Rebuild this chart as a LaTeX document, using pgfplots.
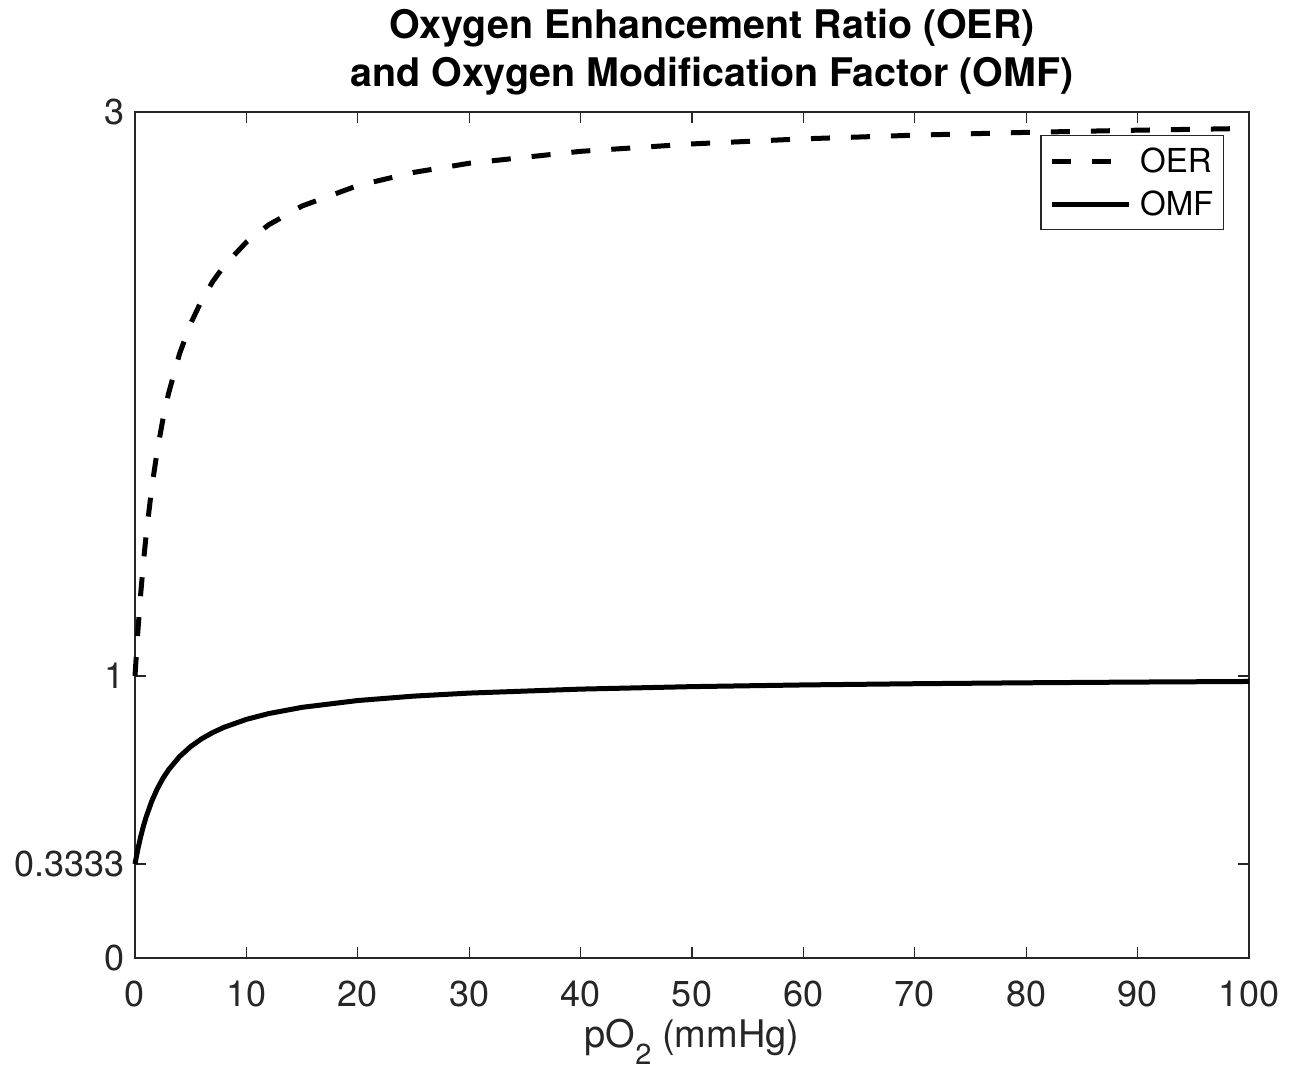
\documentclass[border=0pt]{standalone}
\usepackage{pgfplots}
\pgfplotsset{compat=1.18}
\usepackage{fontspec}
\setmainfont{TeX Gyre Heros}
\definecolor{axisgray}{gray}{0.15}
\begin{document}
\begin{tikzpicture}
\useasboundingbox (-67.5pt,-56pt) rectangle (580pt,479pt);
\begin{axis}[
  at={(0,0)}, anchor=south west,
  scale only axis, width=557pt, height=423pt,
  xmin=0, xmax=100, ymin=0, ymax=3,
  xtick={0,10,...,100},
  ytick={0,0.3333,1,3}, yticklabels={0,0.3333,1,3},
  /pgf/number format/assume math mode=true,
  tick align=inside, major tick length=5.5pt,
  axis line style={draw=axisgray, line width=0.6pt},
  every tick/.style={draw=axisgray, line width=0.6pt},
  tick label style={font=\fontsize{18}{20}\selectfont, text=axisgray},
  xticklabel style={yshift=-8pt},
  yticklabel style={xshift=-1.5pt},
  xlabel={pO\raisebox{-0.45em}{\fontsize{14.5}{14.5}\selectfont 2} (mmHg)},
  xlabel style={font=\fontsize{19}{20}\selectfont, text=axisgray, yshift=1pt},
  title={Oxygen Enhancement Ratio (OER)\\and Oxygen Modification Factor (OMF)},
  title style={align=center, font=\bfseries\fontsize{19.7}{24}\selectfont, xshift=10pt, yshift=-1pt},
  legend style={at={(1,1)}, anchor=north east, xshift=-12.5pt, yshift=-11.5pt,
    draw=axisgray, line width=0.6pt, font=\fontsize{16.5}{18}\selectfont, text=black,
    inner xsep=4pt, inner ysep=6pt, row sep=8pt,
    nodes={inner sep=1pt, text height=11.5pt, text depth=0pt}},
  legend cell align=left,
  legend image code/.code={\draw[#1] (0pt,0pt) -- (38.5pt,0pt); \path (42pt,0pt);},
  clip=false,
]
\addplot[black, line width=2.5pt, dash pattern=on 9.5pt off 10.5pt] coordinates {
(0,1) (0.25,1.1538) (0.5,1.2857) (0.75,1.4) (1,1.5) (1.5,1.6667) (2,1.8) (2.5,1.9091)
(3,2) (4,2.1429) (5,2.25) (6,2.3333) (7,2.4) (8,2.4545) (10,2.5385) (12,2.6)
(15,2.6667) (20,2.7391) (25,2.7857) (30,2.8182) (40,2.8605) (50,2.8868)
(60,2.9048) (70,2.9178) (80,2.9277) (90,2.9355) (100,2.9417)
};
\addlegendentry{OER}
\addplot[black, line width=2.5pt] coordinates {
(0,0.3333) (0.25,0.3846) (0.5,0.4286) (0.75,0.4667) (1,0.5) (1.5,0.5556) (2,0.6) (2.5,0.6364)
(3,0.6667) (4,0.7143) (5,0.75) (6,0.7778) (7,0.8) (8,0.8182) (10,0.8462) (12,0.8667)
(15,0.8889) (20,0.9130) (25,0.9286) (30,0.9394) (40,0.9535) (50,0.9623)
(60,0.9683) (70,0.9726) (80,0.9759) (90,0.9785) (100,0.9806)
};
\addlegendentry{OMF}
\end{axis}
\end{tikzpicture}
\end{document}
